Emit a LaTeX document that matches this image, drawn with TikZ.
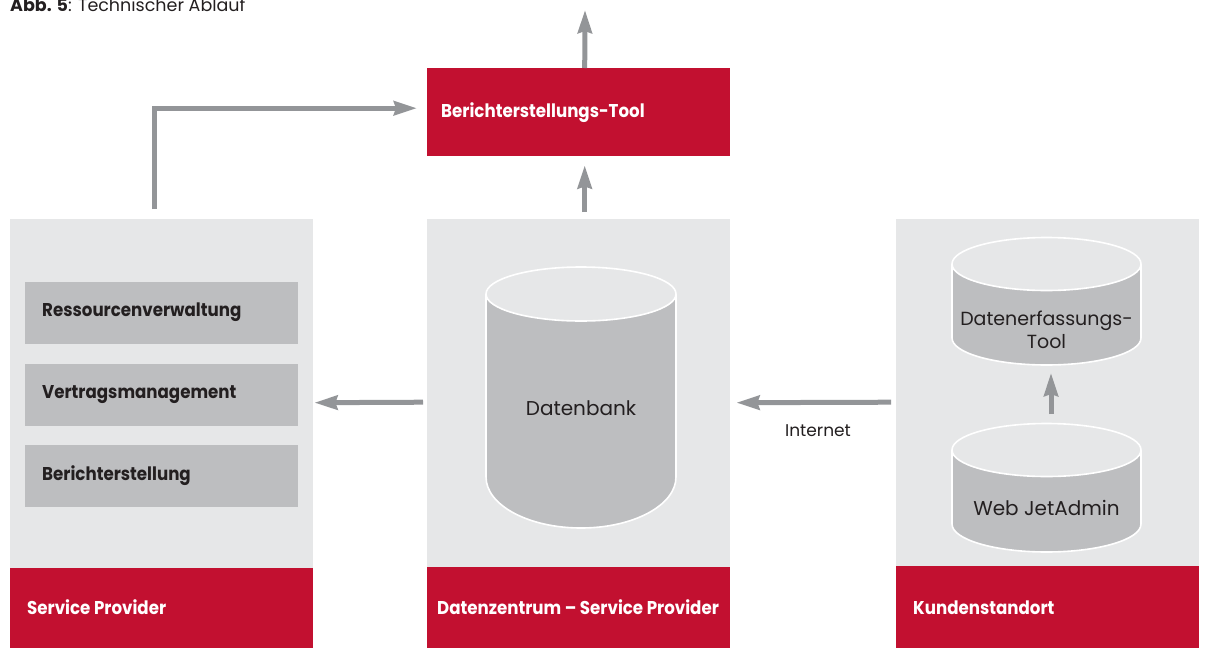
\documentclass[tikz,border=0pt]{standalone}
\usepackage{fontspec}
\setmainfont{Poppins}
\newfontfamily\condfont[FakeStretch=0.9]{Poppins}
\usetikzlibrary{arrows.meta}
\definecolor{hpred}{HTML}{C21030}
\definecolor{panelgray}{HTML}{E6E7E8}
\definecolor{boxgray}{HTML}{BDBEC0}
\definecolor{arrowgray}{HTML}{939598}
\definecolor{txt}{HTML}{231F20}
\newcommand\drawcyl[6]{% cx, cy, rx, ry, yside, rb
  \fill[boxgray] (#1-#3,#2) -- (#1-#3,#5) arc[start angle=180,end angle=360,x radius=#3pt,y radius=#6pt] -- (#1+#3,#2) -- cycle;
  \draw[white,line width=1.6pt] (#1-#3,#2) -- (#1-#3,#5) arc[start angle=180,end angle=360,x radius=#3pt,y radius=#6pt] -- (#1+#3,#2);
  \filldraw[fill=panelgray,draw=white,line width=1.6pt] (#1,#2) ellipse[x radius=#3pt,y radius=#4pt];
}
\begin{document}
\begin{tikzpicture}[x=1pt,y=-1pt,
  panel/.style={fill=panelgray,inner sep=0pt,anchor=north west,minimum width=303pt},
  band/.style={fill=hpred,inner sep=0pt,anchor=north west,minimum width=303pt},
  boldlab/.style={anchor=base west,inner sep=0pt,font=\condfont\fontsize{18.5}{21}\selectfont\bfseries},
  bandlabel/.style={boldlab,text=white},
  subbox/.style={fill=boxgray,inner sep=0pt,anchor=north west,minimum width=273pt,minimum height=62pt},
  boxlabel/.style={boldlab,text=txt},
  cyllabel/.style={inner sep=0pt,text=txt,align=center,font=\fontsize{20}{23}\selectfont},
  arr/.style={draw=arrowgray,line width=5pt,line join=miter,-{Stealth[length=23pt,width=14pt,inset=2pt]}}]
\useasboundingbox (0,0) rectangle (1206,648);
% title
\node[anchor=base west,inner sep=0pt,text=txt,font=\fontsize{17.5}{20}\selectfont] (title) at (10,11) {\textbf{Abb. 5}: Technischer Ablauf};
% panels
\node[panel,minimum height=349pt] (sp) at (10,219) {};
\node[panel,minimum height=348pt] (dz) at (427,219) {};
\node[panel,minimum height=347pt] (ks) at (896,219) {};
\node[band,minimum height=80pt] (spb) at (10,568) {};
\node[band,minimum height=81pt] (dzb) at (427,567) {};
\node[band,minimum height=82pt] (ksb) at (896,566) {};
\node[bandlabel] (spl) at (27,614) {Service Provider};
\node[bandlabel] (dzl) at (437,614) {Datenzentrum – Service Provider};
\node[bandlabel] (ksl) at (913,614) {Kundenstandort};
% reporting tool
\node[fill=hpred,inner sep=0pt,anchor=north west,minimum width=303pt,minimum height=88pt] (bt) at (427,68) {};
\node[bandlabel] (btl) at (441,117) {Berichterstellungs-Tool};
% sub boxes
\node[subbox] (b1) at (25,282) {};
\node[subbox] (b2) at (25,364) {};
\node[subbox] (b3) at (25,445) {};
\node[boxlabel] (b1l) at (42,316) {Ressourcenverwaltung};
\node[boxlabel] (b2l) at (42,398) {Vertragsmanagement};
\node[boxlabel] (b3l) at (42,480) {Berichterstellung};
% cylinders
\drawcyl{581}{294}{95}{27}{477}{51}
\drawcyl{1046.5}{264}{94.5}{26.5}{338}{27}
\drawcyl{1046.5}{450}{94.5}{26.5}{524}{28}
\node[cyllabel,anchor=base] (db) at (581,415) {Datenbank};
\node[cyllabel,font=\fontsize{19}{23}\selectfont] (de) at (1046.5,330) {Datenerfassungs-\\Tool};
\node[cyllabel,anchor=base] (wj) at (1046.5,515) {Web JetAdmin};
\coordinate (debot) at (1051,366);
\coordinate (wjtop) at (1051,424);
\coordinate (topend) at (585,10);
% connectors
\draw[arr] ([xshift=6pt]bt.north) -- (topend);
\draw[arr] ([xshift=6pt,yshift=7pt]dz.north) -- ([xshift=6pt,yshift=-9pt]bt.south);
\draw[arr] ([xshift=-7.5pt,yshift=10pt]sp.north) |- ([xshift=-10pt,yshift=4pt]bt.west);
\draw[arr] ([shift={(-4,9)}]dz.west) -- ([shift={(1,9)}]sp.east);
\draw[arr] ([shift={(-5,9.5)}]ks.west) -- ([shift={(6,9.5)}]dz.east);
\node[inner sep=0pt,text=txt,font=\fontsize{17}{20}\selectfont] (inet) at (818,431) {Internet};
\draw[arr,shorten <=10pt,shorten >=7pt] (wjtop) -- (debot);
\end{tikzpicture}
\end{document}
